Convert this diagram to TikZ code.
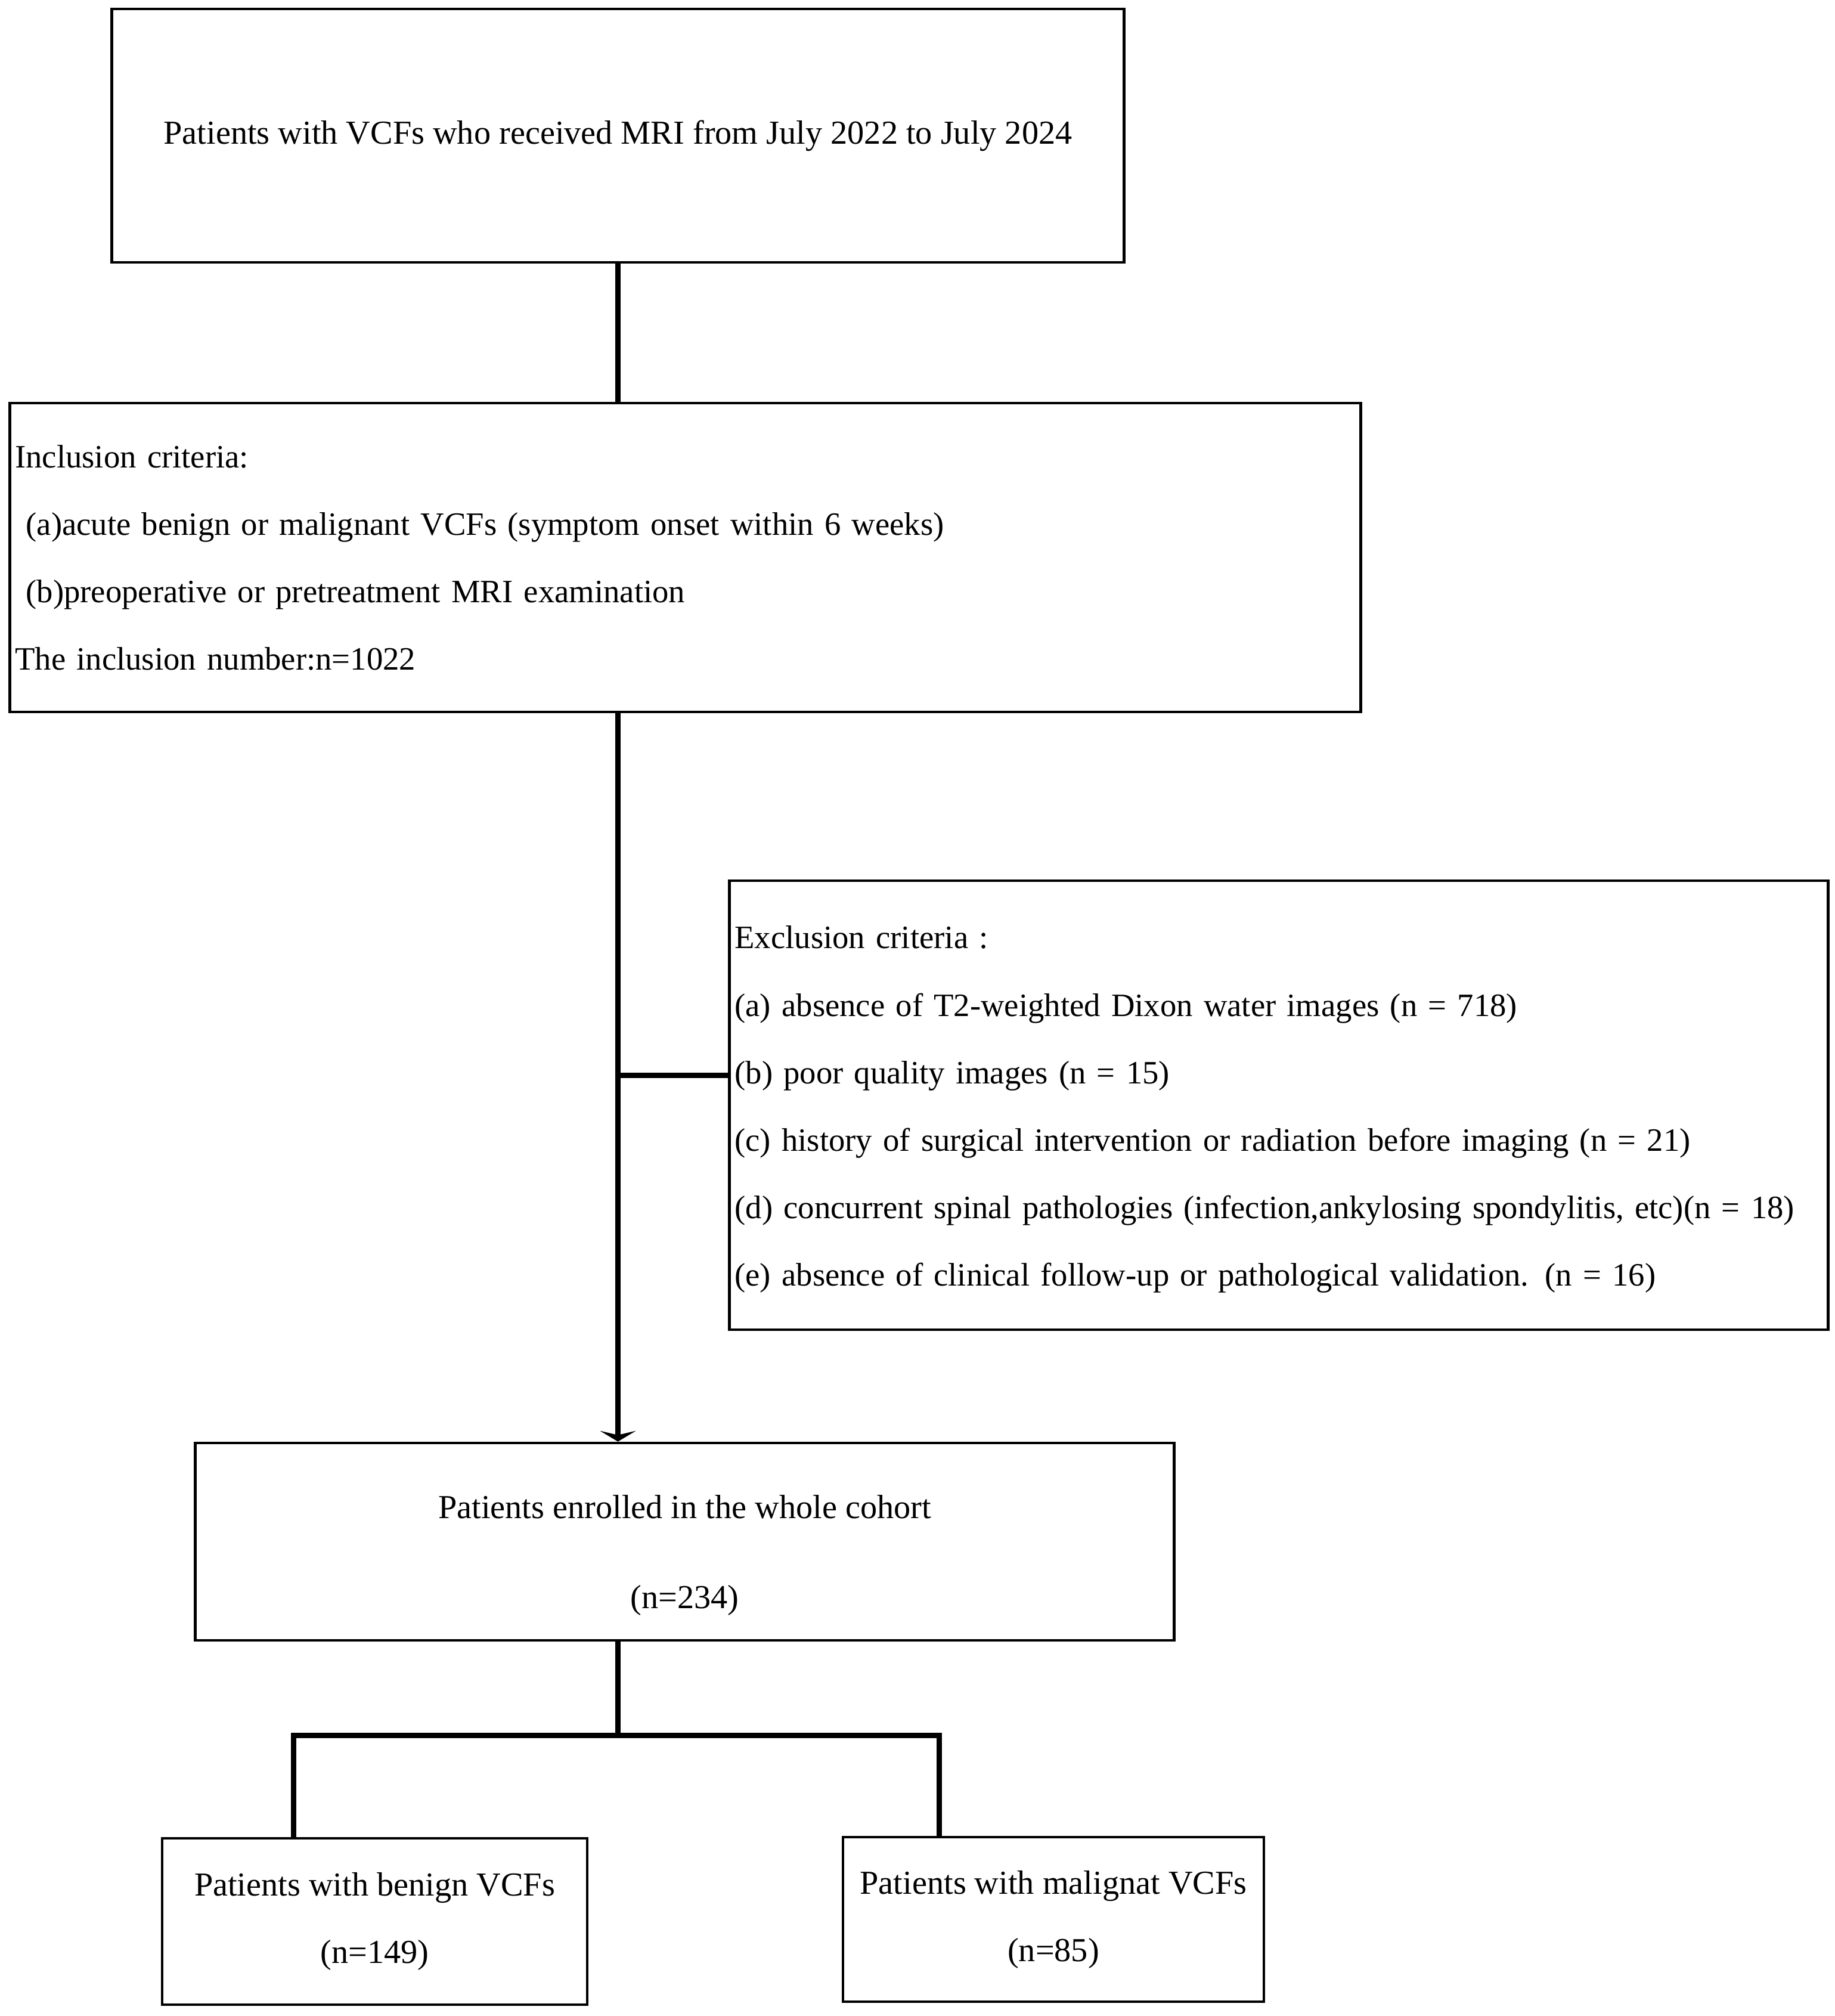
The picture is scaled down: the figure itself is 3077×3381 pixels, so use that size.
\documentclass[tikz,border=0pt]{standalone}
\usepackage{fontspec}
\setmainfont{Liberation Serif}
\usetikzlibrary{arrows.meta}
\tikzset{
    box/.style={draw=black, line width=0.045cm, inner sep=0pt, align=center,
        font=\fontsize{16}{32.15}\selectfont},
    listbox/.style={box, align=left, inner xsep=0.09cm,
        font=\fontsize{15.55}{32.15}\selectfont},
    conn/.style={draw=black, line width=0.09cm},
}

\begin{document}
\begin{tikzpicture}[x=0.01cm, y=-0.01cm]
    \useasboundingbox (0,0) rectangle (3077,3381);

    % Kaesten.
    \node[box, minimum width=16.97cm, minimum height=4.25cm] (top) at (1036.5,227.5)
        {Patients with VCFs who received MRI from July 2022 to July 2024};
    \node[listbox, text width=22.47cm, minimum height=5.18cm] (incl) at (1149.5,935)
        {Inclusion criteria:\\
         \ (a)acute benign or malignant VCFs (symptom onset within 6 weeks)\\
         \ (b)preoperative or pretreatment MRI examination\\
         The inclusion number:n=1022};
    \node[listbox, text width=18.24cm, minimum height=7.53cm] (excl) at (2145,1853.5) {};
    \node[listbox, draw=none, text width=18.24cm] (excltext) at ([yshift=-0.07cm]excl.center)
        {Exclusion criteria :\\
         (a) absence of T2-weighted Dixon water images (n = 718)\\
         (b) poor quality images (n = 15)\\
         (c) history of surgical intervention or radiation before imaging (n = 21)\\
         (d) concurrent spinal pathologies (infection,ankylosing spondylitis, etc)(n = 18)\\
         (e) absence of clinical follow-up or pathological validation. (n = 16)};
    \node[box, minimum width=16.41cm, minimum height=3.31cm] (enr) at (1148.5,2585.5) {};
    \node[box, draw=none] (enrtext) at ([yshift=-0.225cm]enr.center)
        {Patients enrolled in the whole cohort\\[0.38cm] (n=234)};
    \node[box, minimum width=7.13cm, minimum height=2.79cm] (benign) at (628.5,3222.5)
        {Patients with benign VCFs\\ (n=149)};
    \node[box, minimum width=7.06cm, minimum height=2.76cm] (malig) at (1767,3219)
        {Patients with malignat VCFs\\ (n=85)};

    % Verbindungen.
    \coordinate (exbranch) at (1036,1803);
    \coordinate (splitl) at (492,2910);
    \coordinate (splitr) at (1575,2910);
    \draw[conn] (top.south) -- (top.south |- incl.north);
    \draw[conn, -{Stealth[length=0.18cm, width=0.6cm, inset=0.07cm]}]
        (top.south |- incl.south) -- (top.south |- enr.north);
    \draw[conn] (exbranch) -- (exbranch -| excl.west);
    \draw[conn] (top.south |- enr.south) -- (top.south |- splitl);
    \draw[conn] (splitl |- benign.north) -- (splitl) -- (splitr) -- (splitr |- malig.north);
\end{tikzpicture}
\end{document}
